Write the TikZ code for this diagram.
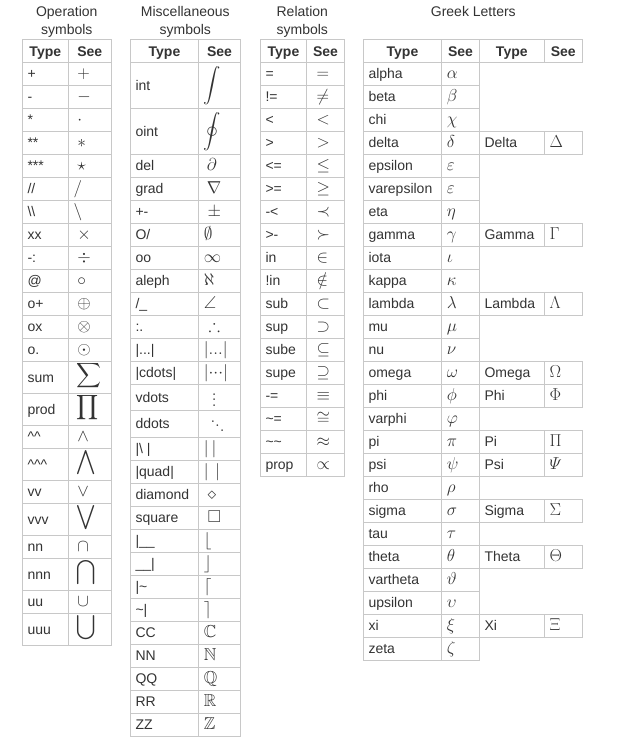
\documentclass[tikz,border=0pt]{standalone}
\usepackage{amsmath,amssymb}
\usepackage[no-math]{fontspec}
\setmainfont{Liberation Sans}
\definecolor{ink}{RGB}{51,51,51}
\definecolor{rulegray}{RGB}{200,200,200}
\tikzset{
  gridline/.style={draw=rulegray, line width=1pt},
  txt/.style={anchor=base west, inner sep=0pt, text=ink, font=\fontsize{14}{16}\selectfont},
  sym/.style={anchor=base west, inner sep=0pt, text=ink, font=\fontsize{17.28}{20}\selectfont},
  hdr/.style={anchor=base, inner sep=0pt, text=ink, font=\fontsize{14}{16}\selectfont\bfseries},
  ttl/.style={anchor=base, inner sep=0pt, text=ink, font=\fontsize{14}{16}\selectfont},
}
\newcommand\tabsetup[4]{\gdef\tabL{#1}\gdef\tabM{#2}\gdef\tabR{#3}\xdef\curtop{#4}}
\newcommand\trow[4]{%
  \pgfmathsetmacro\rowbot{\curtop+#2}%
  \pgfmathsetmacro\rowbase{\curtop+#2/2+5}%
  \draw[gridline] (\tabL,\rowbot) -- (\tabR,\rowbot);
  \node[txt] (#1-t) at (\tabL+5,\rowbase) {#3};
  \node[sym] (#1-s) at (\tabM+5,\rowbase) {#4};
  \xdef\curtop{\rowbot}%
}
\newcommand\capcell[4]{%
  \pgfmathsetmacro\ctop{62.3+(#2-1)*23}%
  \pgfmathsetmacro\cbot{\ctop+23}%
  \pgfmathsetmacro\cbase{\ctop+16.5}%
  \draw[gridline] (479.3,\ctop) rectangle (582.3,\cbot);
  \draw[gridline] (544.3,\ctop) -- (544.3,\cbot);
  \node[txt] (#1-t) at (484.3,\cbase) {#3};
  \node[sym] (#1-s) at (549.3,\cbase) {#4};
}
\newcommand\bigsym[1]{\hspace{2.9pt}\raisebox{2pt}{$\displaystyle#1$}}
\newcommand\mydot{\hbox{$.$}}
\begin{document}
\begin{tikzpicture}[x=1pt,y=-1pt]
\useasboundingbox (0,0) rectangle (628,747);
% titles
\node[ttl] (ttl-op1) at (66.8,16.8) {Operation};
\node[ttl] (ttl-op2) at (66.8,34.5) {symbols};
\node[ttl] (ttl-mi1) at (185.3,16.8) {Miscellaneous};
\node[ttl] (ttl-mi2) at (185.3,34.5) {symbols};
\node[ttl] (ttl-re1) at (302.3,16.8) {Relation};
\node[ttl] (ttl-re2) at (302.3,34.5) {symbols};
\node[ttl] (ttl-gr) at (473.3,16.8) {Greek Letters};

% ---------- Operation symbols ----------
\tabsetup{22.3}{68.3}{111.3}{62.3}
\node[hdr] (op-h1) at (45.3,56) {Type};
\node[hdr] (op-h2) at (89.8,56) {See};
\draw[gridline] (22.3,62.3) -- (111.3,62.3);
\trow{op1}{23}{+}{${}+{}$}
\trow{op2}{23}{-}{${}-{}$}
\trow{op3}{23}{*}{${}\cdot{}$}
\trow{op4}{23}{**}{${}\ast{}$}
\trow{op5}{23}{***}{${}\star{}$}
\trow{op6}{23}{//}{$/$}
\trow{op7}{23}{\textbackslash\textbackslash}{$\backslash$}
\trow{op8}{23}{xx}{${}\times{}$}
\trow{op9}{23}{-:}{${}\div{}$}
\trow{op10}{23}{@}{${}\circ{}$}
\trow{op11}{23}{o+}{${}\oplus{}$}
\trow{op12}{23}{ox}{${}\otimes{}$}
\trow{op13}{23}{o.}{${}\odot{}$}
\trow{op14}{32}{sum}{\bigsym{\sum}}
\trow{op15}{32}{prod}{\bigsym{\prod}}
\trow{op16}{23}{\textasciicircum\textasciicircum}{${}\wedge{}$}
\trow{op17}{32}{\textasciicircum\textasciicircum\textasciicircum}{\bigsym{\bigwedge}}
\trow{op18}{23}{vv}{${}\vee{}$}
\trow{op19}{32}{vvv}{\bigsym{\bigvee}}
\trow{op20}{23}{nn}{${}\cap{}$}
\trow{op21}{32}{nnn}{\bigsym{\bigcap}}
\trow{op22}{23}{uu}{${}\cup{}$}
\trow{op23}{32}{uuu}{\bigsym{\bigcup}}
\draw[gridline] (22.3,39.3) rectangle (111.3,\curtop);
\draw[gridline] (68.3,39.3) -- (68.3,\curtop);

% ---------- Miscellaneous symbols ----------
\tabsetup{130.3}{198.7}{240.3}{62.3}
\node[hdr] (mi-h1) at (164.5,56) {Type};
\node[hdr] (mi-h2) at (219.5,56) {See};
\draw[gridline] (130.3,62.3) -- (240.3,62.3);
\trow{mi1}{46}{int}{$\displaystyle\int$}
\trow{mi2}{46}{oint}{$\displaystyle\oint$}
\trow{mi3}{23}{del}{$\,\partial$}
\trow{mi4}{23}{grad}{$\,\nabla$}
\trow{mi5}{23}{+-}{${}\pm{}$}
\trow{mi6}{23}{O/}{$\emptyset$}
\trow{mi7}{23}{oo}{$\infty$}
\trow{mi8}{23}{aleph}{$\aleph$}
\trow{mi9}{23}{/\_}{$\angle$}
\trow{mi10}{23}{:.}{${}\therefore{}$}
\trow{mi11}{23}{|...|}{$|...|$}
\trow{mi12}{23}{|cdots|}{$|{\cdot}{\cdot}{\cdot}|$}
\trow{mi13}{26}{vdots}{\hspace{7.9pt}\lower3.7pt\vbox{\baselineskip5.3pt\lineskiplimit0pt\mydot\mydot\mydot}}
\trow{mi14}{27}{ddots}{\hspace{6.6pt}\raise6.8pt\mydot\raise1.95pt\mydot\lower2.9pt\mydot}
\trow{mi15}{23}{|\textbackslash\ |}{$|\mskip3mu|$}
\trow{mi16}{23}{|quad|}{$|\mskip7mu|$}
\trow{mi17}{23}{diamond}{${}\diamond{}$}
\trow{mi18}{23}{square}{$\mskip4mu\square$}
\trow{mi19}{23}{|\_\_}{$\lfloor$}
\trow{mi20}{23}{\_\_|}{$\rfloor$}
\trow{mi21}{23}{|\textasciitilde}{$\lceil$}
\trow{mi22}{23}{\textasciitilde|}{$\rceil$}
\trow{mi23}{23}{CC}{$\mathbb{C}$}
\trow{mi24}{23}{NN}{$\mathbb{N}$}
\trow{mi25}{23}{QQ}{$\mathbb{Q}$}
\trow{mi26}{23}{RR}{$\mathbb{R}$}
\trow{mi27}{23}{ZZ}{$\mathbb{Z}$}
\draw[gridline] (130.3,39.3) rectangle (240.3,\curtop);
\draw[gridline] (198.7,39.3) -- (198.7,\curtop);

% ---------- Relation symbols ----------
\tabsetup{260.3}{306.7}{344.3}{62.3}
\node[hdr] (re-h1) at (283.5,56) {Type};
\node[hdr] (re-h2) at (325.5,56) {See};
\draw[gridline] (260.3,62.3) -- (344.3,62.3);
\trow{re1}{23}{=}{${}={}$}
\trow{re2}{23}{!=}{${}\neq{}$}
\trow{re3}{23}{<}{${}<{}$}
\trow{re4}{23}{>}{${}>{}$}
\trow{re5}{23}{<=}{${}\leq{}$}
\trow{re6}{23}{>=}{${}\geq{}$}
\trow{re7}{23}{-<}{${}\prec{}$}
\trow{re8}{23}{>-}{${}\succ{}$}
\trow{re9}{23}{in}{${}\in{}$}
\trow{re10}{23}{!in}{${}\notin{}$}
\trow{re11}{23}{sub}{${}\subset{}$}
\trow{re12}{23}{sup}{${}\supset{}$}
\trow{re13}{23}{sube}{${}\subseteq{}$}
\trow{re14}{23}{supe}{${}\supseteq{}$}
\trow{re15}{23}{-=}{${}\equiv{}$}
\trow{re16}{23}{\textasciitilde=}{${}\cong{}$}
\trow{re17}{23}{\textasciitilde\textasciitilde}{${}\approx{}$}
\trow{re18}{23}{prop}{${}\propto{}$}
\draw[gridline] (260.3,39.3) rectangle (344.3,\curtop);
\draw[gridline] (306.7,39.3) -- (306.7,\curtop);

% ---------- Greek letters ----------
\tabsetup{363.3}{441.7}{479.3}{62.3}
\draw[gridline] (363.3,39.3) rectangle (582.3,62.3);
\draw[gridline] (544.3,39.3) -- (544.3,62.3);
\node[hdr] (gr-h1) at (402.5,56) {Type};
\node[hdr] (gr-h2) at (460.5,56) {See};
\node[hdr] (gr-h3) at (511.8,56) {Type};
\node[hdr] (gr-h4) at (563.3,56) {See};
\trow{gr1}{23}{alpha}{$\alpha$}
\trow{gr2}{23}{beta}{$\beta$}
\trow{gr3}{23}{chi}{$\chi$}
\trow{gr4}{23}{delta}{$\delta$}
\trow{gr5}{23}{epsilon}{$\varepsilon$}
\trow{gr6}{23}{varepsilon}{$\varepsilon$}
\trow{gr7}{23}{eta}{$\eta$}
\trow{gr8}{23}{gamma}{$\gamma$}
\trow{gr9}{23}{iota}{$\iota$}
\trow{gr10}{23}{kappa}{$\kappa$}
\trow{gr11}{23}{lambda}{$\lambda$}
\trow{gr12}{23}{mu}{$\mu$}
\trow{gr13}{23}{nu}{$\nu$}
\trow{gr14}{23}{omega}{$\omega$}
\trow{gr15}{23}{phi}{$\phi$}
\trow{gr16}{23}{varphi}{$\varphi$}
\trow{gr17}{23}{pi}{$\pi$}
\trow{gr18}{23}{psi}{$\psi$}
\trow{gr19}{23}{rho}{$\rho$}
\trow{gr20}{23}{sigma}{$\sigma$}
\trow{gr21}{23}{tau}{$\tau$}
\trow{gr22}{23}{theta}{$\theta$}
\trow{gr23}{23}{vartheta}{$\vartheta$}
\trow{gr24}{23}{upsilon}{$\upsilon$}
\trow{gr25}{23}{xi}{$\xi$}
\trow{gr26}{23}{zeta}{$\zeta$}
\draw[gridline] (363.3,39.3) rectangle (479.3,\curtop);
\draw[gridline] (441.7,39.3) -- (441.7,\curtop);
\capcell{gc4}{4}{Delta}{$\Delta$}
\capcell{gc8}{8}{Gamma}{$\Gamma$}
\capcell{gc11}{11}{Lambda}{$\Lambda$}
\capcell{gc14}{14}{Omega}{$\Omega$}
\capcell{gc15}{15}{Phi}{$\Phi$}
\capcell{gc17}{17}{Pi}{$\Pi$}
\capcell{gc18}{18}{Psi}{$\varPsi$}
\capcell{gc20}{20}{Sigma}{$\Sigma$}
\capcell{gc22}{22}{Theta}{$\Theta$}
\capcell{gc25}{25}{Xi}{$\Xi$}
\end{tikzpicture}
\end{document}
